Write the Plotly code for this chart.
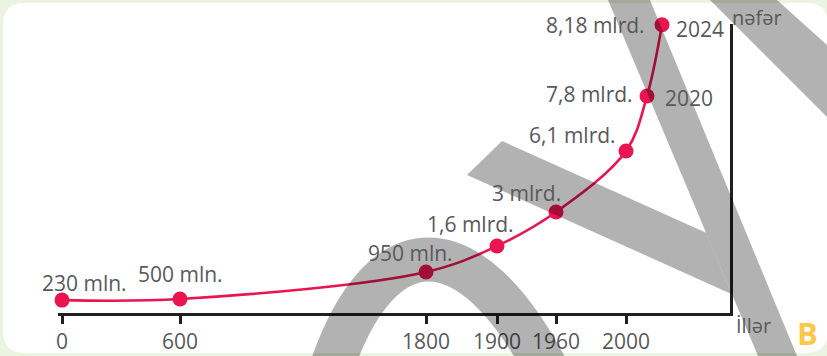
import numpy as np
import plotly.graph_objects as go

# ---------------- data ----------------
years = [0, 600, 1800, 1900, 1960, 2000, 2020, 2024]
population_bn = [0.23, 0.5, 0.95, 1.6, 3.0, 6.1, 7.8, 8.18]
population_labels = ["230 mln.", "500 mln.", "950 mln.", "1,6 mlrd.", "3 mlrd.",
                     "6,1 mlrd.", "7,8 mlrd.", "8,18 mlrd."]
tick_years = [0, 600, 1800, 1900, 1960, 2000]
tick_labels = ["0", "600", "1800", "1900", "1960", "2000"]
labelled_years = [2020, 2024]
labelled_year_text = ["2020", "2024"]
x_axis_title = "İllər"
y_axis_title = "nəfər"
panel_letter = "B"

# ------------- schematic (non-linear) scales of the drawing -------------
X_SCALE_YEARS = [0, 600, 1800, 1900, 1960, 2000, 2020, 2024]
X_SCALE_POS = [4, 122, 368, 439, 498, 568, 589, 604]
Y_SCALE_POP = [0, 0.5, 1.0, 1.6, 3.0, 6.1, 7.8, 8.2]
Y_SCALE_POS = [12, 14, 44, 67, 101, 162, 217, 292]


def sx(v):
    return np.interp(v, X_SCALE_YEARS, X_SCALE_POS)


def sy(v):
    return np.interp(v, Y_SCALE_POP, Y_SCALE_POS)


W, H = 827, 356
ML, MR, MT, MB = 58, 97, 24, 43
PW, PH = W - ML - MR, H - MT - MB
FONT = "Open Sans"
TXT = "#58595b"
AX = "#231f20"
RED = "#ea1550"

fig = go.Figure()
fig.add_trace(go.Scatter(
    x=sx(years), y=sy(population_bn), mode="lines+markers",
    line=dict(color=RED, width=2.6, shape="spline", smoothing=1.0),
    marker=dict(color=RED, size=15),
    cliponaxis=False, hoverinfo="skip", showlegend=False,
))

# label placement styles (anchor, pixel shifts relative to the point)
label_style = [("center", 22, 17), ("center", 0, 25), ("center", -16, 19),
               ("center", -27, 22), ("center", -30, 19), ("center", -54, 16),
               ("right", -12, 2), ("right", -15, 0)]
year_style = [("left", 16, -2), ("left", 12, -4)]

annotations = []
xs, ys = sx(years), sy(population_bn)
for i, txt in enumerate(population_labels):
    anc, dx, dy = label_style[i]
    annotations.append(dict(x=xs[i], y=ys[i], xref="x", yref="y", text=txt,
                            showarrow=False, xanchor=anc, yanchor="middle",
                            xshift=dx, yshift=dy,
                            font=dict(family=FONT, size=21, color=TXT)))
for yr, txt, (anc, dx, dy) in zip(labelled_years, labelled_year_text, year_style):
    i = years.index(yr)
    annotations.append(dict(x=xs[i], y=ys[i], xref="x", yref="y", text=txt,
                            showarrow=False, xanchor=anc, yanchor="middle",
                            xshift=dx, yshift=dy,
                            font=dict(family=FONT, size=21, color=TXT)))


def pxx(x):
    return (x - ML) / PW


def pxy(y):
    return (H - MB - y) / PH


def px(x, y):
    return f"{pxx(x):.5f},{pxy(y):.5f}"


annotations += [
    dict(x=pxx(757), y=pxy(17), xref="paper", yref="paper", text=y_axis_title,
         showarrow=False, xanchor="center", yanchor="middle",
         font=dict(family=FONT, size=20, color=TXT)),
    dict(x=pxx(753), y=pxy(325), xref="paper", yref="paper", text=x_axis_title,
         showarrow=False, xanchor="center", yanchor="middle",
         font=dict(family=FONT, size=20, color=TXT)),
    dict(x=pxx(807), y=pxy(333), xref="paper", yref="paper",
         text=f"<b>{panel_letter}</b>", showarrow=False, xanchor="center",
         yanchor="middle", font=dict(family=FONT, size=31, color="#fcc84a")),
]

# card (rounded white panel)
x0, y0, x1, y1, r = 3, 3, 828, 353, 22
card = (f"M {px(x0 + r, y0)} L {px(x1 - r, y0)} Q {px(x1, y0)} {px(x1, y0 + r)} "
        f"L {px(x1, y1 - r)} Q {px(x1, y1)} {px(x1 - r, y1)} "
        f"L {px(x0 + r, y1)} Q {px(x0, y1)} {px(x0, y1 - r)} "
        f"L {px(x0, y0 + r)} Q {px(x0, y0)} {px(x0 + r, y0)} Z")

# watermark overlay
shade = "rgba(0,0,0,0.30)"
band_a = f"M {px(608, 0)} L {px(650, 0)} L {px(797, 356)} L {px(758, 356)} Z"
band_b = f"M {px(502, 141)} L {px(706.1, 232.8)} L {px(731.9, 294.2)} L {px(467, 175)} Z"
band_c = f"M {px(710, 0)} L {px(777, 0)} L {px(827, 45)} L {px(827, 117)} Z"
arch = f"M {px(330, 372)} C {px(380, 222)} {px(470, 222)} {px(548, 372)}"

shapes = [
    dict(type="path", path=card, xref="paper", yref="paper", fillcolor="white",
         line=dict(width=0), layer="below"),
    dict(type="path", path=band_a, xref="paper", yref="paper", fillcolor=shade,
         line=dict(width=0), layer="above"),
    dict(type="path", path=band_b, xref="paper", yref="paper", fillcolor=shade,
         line=dict(width=0), layer="above"),
    dict(type="path", path=band_c, xref="paper", yref="paper", fillcolor=shade,
         line=dict(width=0), layer="above"),
    dict(type="path", path=arch, xref="paper", yref="paper",
         fillcolor="rgba(0,0,0,0)", line=dict(width=44, color=shade), layer="above"),
]

fig.update_layout(
    width=W, height=H, autosize=False,
    margin=dict(l=ML, r=MR, t=MT, b=MB, autoexpand=False),
    paper_bgcolor="#eaf4e0", plot_bgcolor="rgba(0,0,0,0)",
    showlegend=False, annotations=annotations, shapes=shapes,
    xaxis=dict(range=[0, PW], tickvals=sx(tick_years), ticktext=tick_labels,
               ticks="outside", ticklen=8, tickwidth=2.5, tickcolor=AX,
               showline=True, linewidth=3, linecolor=AX, showgrid=False,
               zeroline=False, fixedrange=True,
               tickfont=dict(family=FONT, size=21, color=TXT)),
    yaxis=dict(range=[0, PH], side="right", showline=True, linewidth=3,
               linecolor=AX, showticklabels=False, ticks="", showgrid=False,
               zeroline=False, fixedrange=True),
)

fig.write_html("out.html", config={"displayModeBar": False},
               post_script="document.body.style.margin='0px';")
